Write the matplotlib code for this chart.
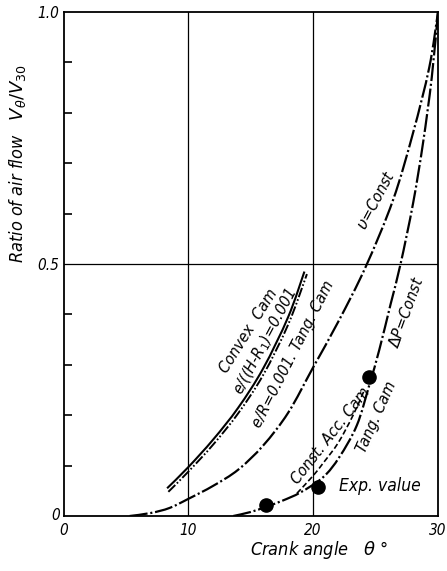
import matplotlib
matplotlib.use("Agg")
import numpy as np
import matplotlib.pyplot as plt
from matplotlib.path import Path
from matplotlib.patches import PathPatch

plt.rcParams['lines.scale_dashes'] = False

# ---- data -------------------------------------------------------------
# v = const (dash-dot)
v_const_theta = [5.3, 7.0, 8.5, 10.0, 12.0, 14.0, 16.0, 18.0, 20.0, 22.0, 24.2, 26.4, 28.0, 29.3, 30.0]
v_const_ratio = [0.0, 0.006, 0.016, 0.034, 0.060, 0.092, 0.140, 0.205, 0.295, 0.385, 0.494, 0.627, 0.760, 0.890, 1.0]

# dP = const / tangential cam (dash-dot)
dp_const_theta = [13.6, 15.0, 16.2, 17.5, 19.0, 20.8, 22.1, 23.5, 24.5, 25.3, 26.2, 27.0, 28.0, 28.8, 29.5, 30.0]
dp_const_ratio = [0.0, 0.008, 0.018, 0.030, 0.047, 0.077, 0.117, 0.180, 0.260, 0.330, 0.420, 0.500, 0.620, 0.740, 0.870, 1.0]

# constant acceleration cam (dashed)
const_acc_theta = [18.7, 20.0, 20.8, 22.0, 23.2, 24.1]
const_acc_ratio = [0.045, 0.080, 0.105, 0.145, 0.200, 0.250]

# convex cam, e/(H-R1)=0.001 (solid)
convex_theta = [8.3, 10.0, 12.0, 14.0, 16.0, 18.0, 19.3]
convex_ratio = [0.055, 0.097, 0.152, 0.215, 0.293, 0.395, 0.485]

# tangential cam, e/R=0.001 (dash-dot-dot)
tang_theta = [8.4, 10.0, 12.0, 14.0, 16.0, 18.0, 19.5]
tang_ratio = [0.048, 0.088, 0.142, 0.204, 0.280, 0.380, 0.480]

# experimental values
exp_theta = [16.2, 20.4, 24.5]
exp_ratio = [0.022, 0.058, 0.276]

x_ticks = [0, 10, 20, 30]
x_tick_labels = ["0", "10", "20", "30"]
y_ticks = [0.5, 1.0]
y_tick_labels = ["0.5", "1.0"]

# ---- fonts ------------------------------------------------------------
tf = dict(family='DejaVu Sans', fontstretch='condensed', style='oblique')


def smooth_path(xs, ys):
    """Catmull-Rom curve through the given points, as cubic Bezier segments."""
    p = np.column_stack([xs, ys]).astype(float)
    verts = [p[0]]
    codes = [Path.MOVETO]
    n = len(p)
    for i in range(n - 1):
        p0 = p[i - 1] if i > 0 else p[i]
        p1, p2 = p[i], p[i + 1]
        p3 = p[i + 2] if i + 2 < n else p[i + 1]
        c1 = p1 + (p2 - p0) / 6.0
        c2 = p2 - (p3 - p1) / 6.0
        verts += [c1, c2, p2]
        codes += [Path.CURVE4] * 3
    return Path(verts, codes)


def curve(ax, xs, ys, **kw):
    ax.add_patch(PathPatch(smooth_path(xs, ys), fill=False, edgecolor='black',
                           capstyle='butt', joinstyle='round', **kw))


# ---- figure -----------------------------------------------------------
fig = plt.figure(figsize=(4.47, 5.71), dpi=100)
ax = fig.add_axes([63.5 / 447, 1 - 516 / 571, (438 - 63.5) / 447, (516 - 12) / 571])
ax.set_xlim(0, 30)
ax.set_ylim(0, 1.0)

for s in ax.spines.values():
    s.set_linewidth(1.3)
    s.set_color('black')

# grid lines
for gx in (10, 20):
    ax.axvline(gx, color='black', lw=0.9, zorder=1)
ax.axhline(0.5, color='black', lw=0.9, zorder=1)

dashdot = (0, (13, 2, 1.5, 2))
dashdotdot = (0, (7, 1.6, 1.2, 1.6, 1.2, 1.6))
curve(ax, v_const_theta, v_const_ratio, lw=1.6, linestyle=dashdot)
curve(ax, dp_const_theta, dp_const_ratio, lw=1.6, linestyle=dashdot)
curve(ax, const_acc_theta, const_acc_ratio, lw=1.2, linestyle=(0, (4, 2)))
curve(ax, convex_theta, convex_ratio, lw=1.5, linestyle='-')
curve(ax, tang_theta, tang_ratio, lw=1.4, linestyle=dashdotdot)
ax.plot(exp_theta, exp_ratio, 'o', color='black', markersize=9.5, zorder=5)

# ticks
ax.set_xticks(x_ticks)
ax.set_xticklabels(x_tick_labels, fontsize=11, **tf)
ax.tick_params(axis='x', length=0, pad=5)
ax.set_yticks(y_ticks)
ax.set_yticklabels(y_tick_labels, fontsize=11, **tf)
ax.set_yticks([0.1, 0.2, 0.3, 0.4, 0.6, 0.7, 0.8, 0.9], minor=True)
ax.tick_params(axis='y', which='major', length=0, pad=3)
ax.tick_params(axis='y', which='minor', direction='in', length=6, width=1.2)
ax.text(-0.3, 0.0, "0", ha='right', va='center', fontsize=11, **tf)

# axis titles
ax.set_xlabel(r"Crank angle   $\theta$ °", fontsize=13, **tf)
ax.set_ylabel(r"Ratio of air flow   $V_{\theta}/V_{30}$", fontsize=13, **tf)
ax.yaxis.set_label_coords(-0.095, 0.70)
ax.xaxis.set_label_coords(0.682, -0.046)

# curve labels
lab = dict(fontsize=11.5, ha='center', va='center', rotation_mode='anchor', **tf)
ax.text(14.8, 0.368, "Convex  Cam", rotation=58, **lab)
ax.text(16.2, 0.345, "e/((H-R$_1$)=0.001", rotation=62, **lab)
ax.text(18.4, 0.322, "e/R=0.001. Tang. Cam", rotation=63, **lab)
ax.text(25.0, 0.627, r"$\upsilon$=Const", rotation=62, **lab)
ax.text(27.5, 0.405, r"$\Delta$P=Const", rotation=70, **lab)
ax.text(21.4, 0.16, "Const. Acc. Cam", rotation=52, **lab)
ax.text(25.1, 0.196, "Tang. Cam", rotation=66, **lab)
ax.text(22.1, 0.06, "Exp. value", fontsize=12.5, ha='left', va='center', **tf)

fig.savefig("out.png", dpi=100)
